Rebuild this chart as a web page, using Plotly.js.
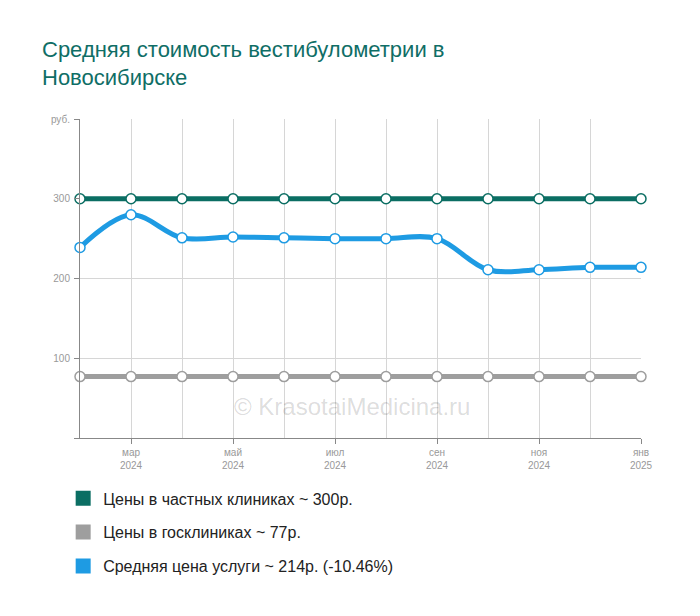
<!DOCTYPE html>
<html><head><meta charset="utf-8">
<script src="https://cdn.plot.ly/plotly-3.0.1.min.js"></script>
<style>html,body{margin:0;padding:0;background:#fff}#c{width:700px;height:616px}</style>
</head><body><div id="c"></div>
<script>
const months = ['фев 2024','мар 2024','апр 2024','май 2024','июн 2024','июл 2024','авг 2024','сен 2024','окт 2024','ноя 2024','дек 2024','янв 2025'];
const tickLabels = ['мар<br>2024','май<br>2024','июл<br>2024','сен<br>2024','ноя<br>2024','янв<br>2025'];
const tickIdx = [1,3,5,7,9,11];
const privatePrices = [300,300,300,300,300,300,300,300,300,300,300,300];
const govPrices = [77,77,77,77,77,77,77,77,77,77,77,77];
const avgPrices = [239,280,251,252,251,250,250,250,211,211,214,214];
const legendNames = ['Цены в частных клиниках ~ 300р.','Цены в госклиниках ~ 77р.','Средняя цена услуги ~ 214р. (-10.46%)'];
const colors = ['#0b6e63','#9e9e9e','#1e9be3'];

const idx = months.map((m,i)=>i);
function lineTrace(y, c, name){
  return {x: idx, y: y, text: months, type:'scatter', mode:'lines+markers', name: name,
    line:{color:c, width:5, shape:'spline', smoothing:1},
    marker:{size:10, color:'#fff', line:{color:c, width:1.5}},
    cliponaxis:false, showlegend:false, hoverinfo:'text+y'};
}
function legTrace(c, name, g){
  return {x:[null], y:[null], type:'scatter', mode:'markers', name:name, legendgroup:g,
    marker:{symbol:'square', size:15, color:c}, showlegend:true};
}
const data = [
  lineTrace(govPrices, colors[1], legendNames[1]),
  lineTrace(avgPrices, colors[2], legendNames[2]),
  lineTrace(privatePrices, colors[0], legendNames[0]),
  legTrace(colors[0], legendNames[0], 'a'),
  legTrace(colors[1], legendNames[1], 'b'),
  legTrace(colors[2], legendNames[2], 'c')
];
const layout = {
  width:700, height:616,
  margin:{l:80, r:59, t:119, b:178},
  paper_bgcolor:'#fff', plot_bgcolor:'#fff',
  font:{family:'Liberation Sans, Arial, sans-serif'},
  title:{text:'Средняя стоимость вестибулометрии в<br>Новосибирске', x:0.06, xref:'container', xanchor:'left', y:0.908, yanchor:'top',
    font:{size:22, color:'#0f6e66', family:'Liberation Sans, Arial, sans-serif'}},
  xaxis:{range:[0,11], tickmode:'array', tickvals:tickIdx, ticktext:tickLabels,
    showgrid:true, gridcolor:'#d6d6d6', gridwidth:1,
    minor:{tickmode:'linear', tick0:0, dtick:1, showgrid:true, gridcolor:'#d6d6d6', gridwidth:1, ticks:''},
    showline:true, linecolor:'#888', linewidth:1, ticks:'outside', ticklen:5, tickcolor:'#888',
    tickfont:{size:10, color:'#999'}, zeroline:false, fixedrange:true},
  yaxis:{range:[0,400], tickmode:'array', tickvals:[0,100,200,300,400], ticktext:['','100','200','300','руб.'],
    showgrid:true, gridcolor:'#d6d6d6', gridwidth:1,
    showline:true, linecolor:'#888', linewidth:1, ticks:'outside', ticklen:5, tickcolor:'#888',
    tickfont:{size:10, color:'#999'}, ticklabelstandoff:2, zeroline:false, fixedrange:true},
  legend:{orientation:'v', x:-0.03, xanchor:'left', y:-0.136, yanchor:'top', tracegroupgap:10,
    font:{size:16, color:'#222'}, bgcolor:'rgba(0,0,0,0)'},
  annotations:[{text:'© KrasotaiMedicina.ru', x:0.485, y:0.05, xref:'paper', yref:'paper', showarrow:false,
    font:{size:24, color:'rgba(0,0,0,0.15)'}}],
  shapes:[{type:'line', xref:'paper', yref:'y', x0:0, x1:1, y0:400, y1:400, line:{color:'#fff', width:2}, layer:'below'}]
};
Plotly.newPlot('c', data, layout, {displayModeBar:false, staticPlot:true});
</script></body></html>
